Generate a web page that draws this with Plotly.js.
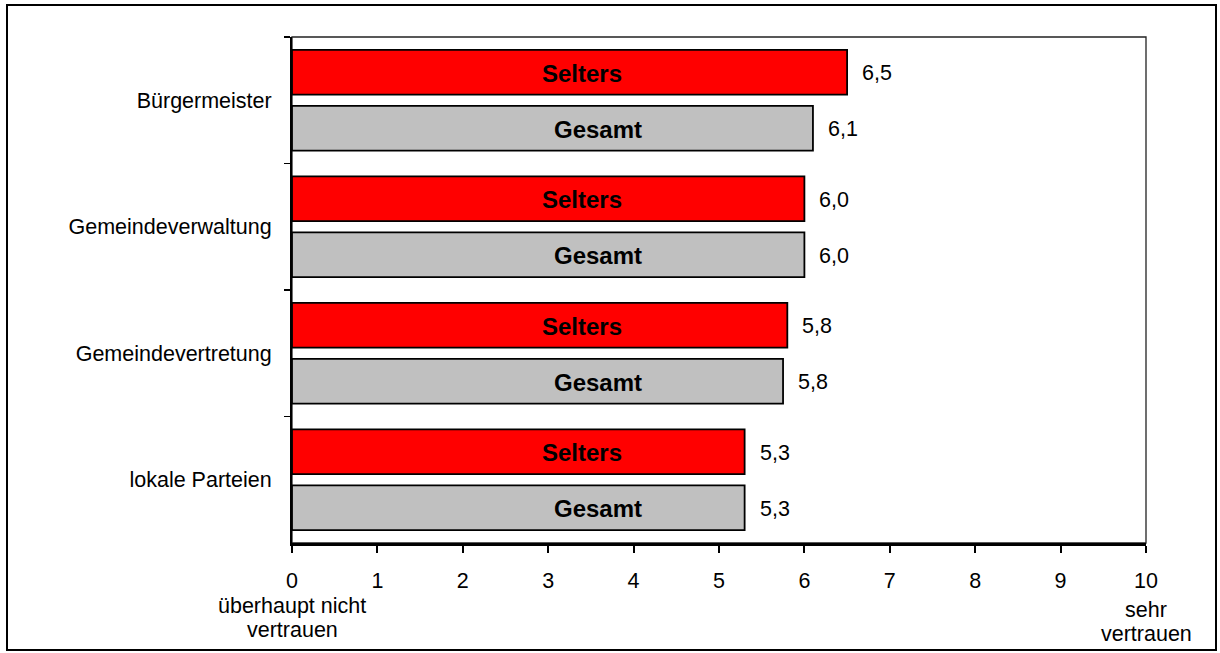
<!DOCTYPE html>
<html>
<head>
<meta charset="utf-8">
<script src="https://cdn.plot.ly/plotly-3.0.1.min.js"></script>
<style>
  html, body { margin: 0; padding: 0; background: #fff; }
  #chart { width: 1220px; height: 653px; }
</style>
</head>
<body>
<div id="chart"></div>
<script>
// ---- data ----
const categories = ['Bürgermeister', 'Gemeindeverwaltung', 'Gemeindevertretung', 'lokale Parteien'];
const seltersValues = [6.5, 6.0, 5.8, 5.3];
const gesamtValues  = [6.1, 6.0, 5.75, 5.3];
const seriesNames = ['Selters', 'Gesamt'];
const xTickValues = [0, 1, 2, 3, 4, 5, 6, 7, 8, 9, 10];
const xLowLabel = ['überhaupt nicht', 'vertrauen'];
const xHighLabel = ['sehr', 'vertrauen'];

// ---- styling ----
const FONT = 'Liberation Sans, Arial, Helvetica, sans-serif';
const TICK_SIZE = 21.5;
const INNER_SIZE = 24;
const SLOT_SHIFT = 28;            // px offset of each bar from category centre
const INNER_LABEL_X = [3.39, 3.58]; // where the series names sit inside bars

function fmt(v) { return v.toFixed(1).replace('.', ','); }

const traces = [
  {
    type: 'bar', orientation: 'h', name: seriesNames[0],
    y: categories, x: seltersValues,
    marker: { color: '#FF0000', line: { color: '#000', width: 1.8 } },
    hoverinfo: 'skip'
  },
  {
    type: 'bar', orientation: 'h', name: seriesNames[1],
    y: categories, x: gesamtValues,
    marker: { color: '#C0C0C0', line: { color: '#000', width: 1.8 } },
    hoverinfo: 'skip'
  }
];

const annotations = [];
[seltersValues, gesamtValues].forEach((vals, s) => {
  const shift = s === 0 ? SLOT_SHIFT : -SLOT_SHIFT;
  vals.forEach((v, i) => {
    annotations.push({
      x: v, y: categories[i], xref: 'x', yref: 'y',
      text: fmt(v), showarrow: false, xanchor: 'left', yanchor: 'middle',
      xshift: 13, yshift: shift - 1,
      font: { family: FONT, size: TICK_SIZE, color: '#000' }
    });
    annotations.push({
      x: INNER_LABEL_X[s], y: categories[i], xref: 'x', yref: 'y',
      text: '<b>' + seriesNames[s] + '</b>', showarrow: false,
      xanchor: 'center', yanchor: 'middle', yshift: shift - 1,
      font: { family: FONT, size: INNER_SIZE, color: '#000' }
    });
  });
});
function endLabel(xv, lines, firstCentre) {
  lines.forEach((t, k) => {
    annotations.push({
      x: xv, y: 0, xref: 'x', yref: 'paper', text: t,
      showarrow: false, xanchor: 'center', yanchor: 'middle',
      yshift: -(firstCentre + k * 24),
      font: { family: FONT, size: TICK_SIZE, color: '#000' }
    });
  });
}
endLabel(xTickValues[0], xLowLabel, 63);
endLabel(xTickValues[xTickValues.length - 1], xHighLabel, 67);

const layout = {
  width: 1220, height: 653,
  margin: { l: 292, r: 74, t: 37, b: 110, pad: 0 },
  paper_bgcolor: '#fff', plot_bgcolor: '#fff',
  showlegend: false,
  barmode: 'group', bargap: 0.115, bargroupgap: 0.2,
  separators: ',.',
  font: { family: FONT, size: TICK_SIZE, color: '#000' },
  xaxis: {
    range: [0, 10], tickvals: xTickValues, ticktext: xTickValues.map(String),
    showgrid: false, zeroline: false,
    showline: true, linecolor: '#000', linewidth: 2.5,
    ticks: 'outside', ticklen: 7, tickwidth: 2, tickcolor: '#000',
    ticklabelstandoff: 10,
    tickfont: { family: FONT, size: TICK_SIZE, color: '#000' },
    fixedrange: true
  },
  yaxis: {
    type: 'category', autorange: false, range: [3.5, -0.5],
    categoryorder: 'array', categoryarray: categories,
    showgrid: false, zeroline: false,
    showline: true, linecolor: '#000', linewidth: 2,
    ticks: 'outside', tickson: 'boundaries', ticklen: 6, tickwidth: 1.5, tickcolor: '#000',
    ticklabelstandoff: 14,
    tickfont: { family: FONT, size: TICK_SIZE, color: '#000' },
    fixedrange: true
  },
  shapes: [
    // thin plot-area frame (top & right)
    { type: 'rect', xref: 'paper', yref: 'paper', x0: 0, x1: 1, y0: 0, y1: 1,
      line: { color: '#222', width: 1.3 }, layer: 'below' },
    // outer chart frame
    { type: 'rect', xref: 'paper', yref: 'paper',
      x0: (7 - 292) / 854, x1: (1216 - 292) / 854,
      y0: (543 - 650) / 506, y1: (543 - 5) / 506,
      line: { color: '#000', width: 2 } }
  ],
  annotations: annotations
};

Plotly.newPlot('chart', traces, layout, { staticPlot: true, displayModeBar: false });
</script>
</body>
</html>
